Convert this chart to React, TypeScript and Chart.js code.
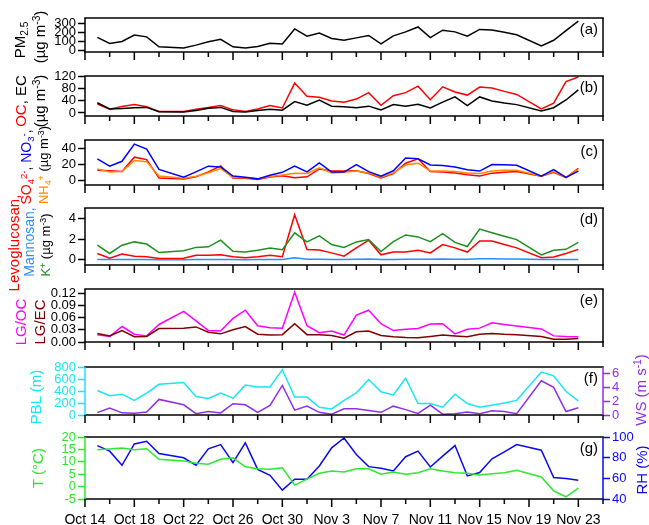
import React, { useEffect, useRef } from "react";
import { Chart, registerables } from "chart.js";

Chart.register(...registerables);

const FONT = "'Liberation Sans', Arial, Helvetica, sans-serif";

// x positions: day offset from Oct 14 (0 = Oct 14)
const dayIndex = [1, 2, 3, 4, 5, 6, 7, 8, 9, 10, 11, 12, 13, 14, 15, 16, 17, 18, 19, 20,
  21, 22, 23, 24, 25, 26, 27, 28, 29, 30, 31, 32, 33, 34, 35, 36, 37, 38, 39, 40];
const xTickLabels = ["Oct 14", "Oct 18", "Oct 22", "Oct 26", "Oct 30", "Nov 3", "Nov 7", "Nov 11", "Nov 15", "Nov 19", "Nov 23"];

const pm25 = [143, 76, 97, 170, 149, 38, null, 24, 57, 95, 122, 38, 24, 41, 78, 70, 238, 157, 192, 132,
  111, 138, 165, 70, 160, 205, 260, 141, 224, 205, 157, 232, 227, 200, 173, null, 49, 111, 219, 324];
const oc = [29, 12, 21, 27, 20, 5, null, 5, 12, 18, 24, 10, 5, 13, 24, 16, 97, 54, 51, 39,
  35, 45, 66, 25, 56, 66, 87, 43, 85, 68, 58, 84, 81, 70, 60, null, 13, 32, 102, 117];
const ec = [33, 13, 14, 17, 18, 4, null, 3, 8, 15, 18, 5, 3, 8, 12, 9, 37, 25, 42, 22,
  20, 17, 22, 10, 27, 22, 28, 16, 35, 52, 24, 52, 39, 32, 27, null, 6, 17, 42, 75];
const so4 = [13, 12.4, 11.4, 29, 26, 3.5, null, 2.2, 5, 11, 18.4, 3.5, 3.2, 1.6, 4.8, 6.4, 4, 5, 14.6, 12,
  12, 12.4, 9, 3.5, 9, 21.6, 27, 11.4, 10.8, 9.8, 7.6, 6, 9.5, 10.5, 11.4, null, 5.7, 10.5, 4, 15.5];
const no3 = [27, 18, 24, 45, 39, 14, null, 4.4, 11, 18, 17, 6, 4.4, 2.5, 7, 10.5, 18, 11, 22, 10.8,
  10.8, 20, 11.4, 5.7, 12.4, 28, 27, 19.4, 18.7, 17, 13.7, 12, 20, 19.7, 19, null, 5.7, 13.7, 4.4, 12];
const nh4 = [14.6, 11, 11.4, 25, 23.5, 6, null, 3.2, 5.7, 10, 15, 4.4, 3.8, 2.5, 5.4, 7.3, 9.5, 9, 16, 9.8,
  10.5, 12, 9.8, 4.4, 9.8, 19.4, 21.6, 12, 12, 11.4, 9.8, 9, 12, 13, 13, null, 6, 11.4, 4.4, 14];
const levoglucosan = [0.61, 0.16, 0.56, 0.35, 0.3, 0.13, null, 0.16, 0.45, 0.43, 0.48, 0.3, 0.2, 0.3, 0.43, 0.3, 4.35, 1.0, 0.95, 0.67,
  0.35, 1.15, 1.89, 0.48, 0.75, 0.75, 0.93, 0.67, 1.47, 1.15, 0.75, 1.81, 1.81, 1.47, 1.15, null, 0.21, 0.27, 0.61, 1.01];
const mannosan = [0.04, 0.02, 0.03, 0.03, 0.02, 0.01, null, 0.01, 0.02, 0.02, 0.02, 0.02, 0.01, 0.02, 0.03, 0.02, 0.2, 0.06, 0.05, 0.04,
  0.02, 0.05, 0.07, 0.03, 0.04, 0.05, 0.06, 0.05, 0.07, 0.06, 0.05, 0.1, 0.11, 0.09, 0.07, null, 0.02, 0.02, 0.03, 0.04];
const kPlus = [1.41, 0.61, 1.41, 1.73, 1.52, 0.7, null, 0.88, 1.2, 1.25, 1.9, 0.83, 0.75, 0.93, 1.15, 0.97, 2.6, 1.73, 2.32, 1.47,
  1.2, 1.73, 1.95, 0.8, 1.76, 2.4, 2.21, 1.76, 2.53, 1.68, 1.28, 2.96, 2.61, 2.27, 1.95, null, 0.48, 0.93, 1.01, 1.68];
const lgOc = [0.018, 0.0135, 0.038, 0.019, 0.015, 0.043, null, 0.075, 0.052, 0.028, 0.027, 0.058, 0.078, 0.04, 0.035, 0.034, 0.122, 0.04, 0.023, 0.027,
  0.017, 0.066, 0.078, 0.045, 0.028, 0.031, 0.033, 0.044, 0.045, 0.02, 0.031, 0.034, 0.047, 0.043, 0.039, null, 0.032, 0.015, 0.0135, 0.013];
const lgEc = [0.021, 0.015, 0.028, 0.013, 0.0135, 0.033, null, 0.034, 0.037, 0.024, 0.02, 0.03, 0.038, 0.019, 0.017, 0.018, 0.045, 0.018, 0.018, 0.016,
  0.0095, 0.025, 0.027, 0.016, 0.013, 0.011, 0.0105, 0.0135, 0.017, 0.015, 0.013, 0.019, 0.021, 0.019, 0.018, null, 0.0135, 0.007, 0.0067, 0.0087];
const pbl = [409, 320, 347, 244, 364, 511, null, 542, 307, 276, 364, 280, 498, 467, 467, 756, 298, 298, 129, 102,
  244, 369, 591, 387, 333, 613, 191, 191, 129, 347, 191, 129, 164, 200, 244, null, 716, 653, 391, 236];
const ws = [0.35, 1.02, 0.31, 0.24, 0.43, 2.27, null, 1.49, 0.2, 0.51, 0.31, 1.65, 1.49, 0.39, 1.41, 4.31, 0.71, 1.29, 0.39, 0.12,
  0.9, 0.9, 0.67, 0.39, 1.29, 0.78, 0.24, 1.45, 0.12, 0.2, 0.43, 0.2, 0.63, 0.51, 0.2, null, 5.0, 4.04, 0.51, 1.06];
const temp = [14.9, 15.2, 15.6, 14.9, 15.3, 11.0, null, 10.3, 9.4, 9.0, 11.0, 11.6, 8.0, 7.2, 7.0, 7.6, 0.6, 3.0, 5.4, 6.3,
  5.9, 7.2, 7.2, 5.0, 5.9, 5.0, 5.6, 7.2, 6.3, 5.6, 5.4, 4.7, 5.2, 5.6, 6.6, null, 3.9, -1.7, -4.1, -0.6];
const rh = [91.7, 86.3, 72.6, 93.3, 95.9, 84.0, null, 79.9, 72.6, 88.5, 92.7, 75.1, 94.3, 68.7, 63.0, 48.6, 59.2, 59.2, 71.9, 89.5,
  99, 83.1, 71.3, 69.7, 67.1, 80.9, 86.3, 71, 81.5, 91.7, 62.4, 65.6, 78.9, 85.6, 92.7, null, 87.2, 60.8, 59.8, 58.2];

const C = {
  black: "#000000",
  red: "#FF0000",
  blue: "#0000FF",
  orange: "#FF8A00",
  mannosan: "#2A8CFF",
  kplus: "#1F8F1F",
  magenta: "#FF00FF",
  darkred: "#800000",
  cyan: "#19E6F0",
  purple: "#8F2FE8",
  tgreen: "#2EE82E",
  rhblue: "#0A0AF0",
};

type AxisCfg = { min: number; max: number; ticks: number[]; color: string; digits?: number };
type SeriesCfg = { values: (number | null)[]; color: string; axis?: "y" | "y2" };
type PanelCfg = {
  top: number;
  bottom: number;
  label: string;
  y: AxisCfg;
  y2?: AxisCfg;
  series: SeriesCfg[];
  showX?: boolean;
};

const PAD_TOP = 10;

const panels: PanelCfg[] = [
  { top: 18, bottom: 64, label: "(a)", y: { min: -20, max: 360, ticks: [0, 100, 200, 300], color: C.black },
    series: [{ values: pm25, color: C.black }] },
  { top: 76, bottom: 128, label: "(b)", y: { min: -10, max: 120, ticks: [0, 40, 80, 120], color: C.black },
    series: [{ values: ec, color: C.black }, { values: oc, color: C.red }] },
  { top: 140, bottom: 197, label: "(c)", y: { min: -5, max: 50, ticks: [0, 20, 40], color: C.black },
    series: [{ values: no3, color: C.blue }, { values: nh4, color: C.orange }, { values: so4, color: C.red }] },
  { top: 208, bottom: 277, label: "(d)", y: { min: -0.5, max: 5, ticks: [0, 2, 4], color: C.black },
    series: [{ values: mannosan, color: C.mannosan }, { values: kPlus, color: C.kplus }, { values: levoglucosan, color: C.red }] },
  { top: 289, bottom: 354, label: "(e)", y: { min: 0, max: 0.13, ticks: [0, 0.03, 0.06, 0.09, 0.12], color: C.black, digits: 2 },
    series: [{ values: lgEc, color: C.darkred }, { values: lgOc, color: C.magenta }] },
  { top: 367, bottom: 427, label: "(f)", y: { min: 0, max: 800, ticks: [0, 200, 400, 600, 800], color: C.cyan },
    y2: { min: 0, max: 7, ticks: [0, 2, 4, 6], color: C.purple },
    series: [{ values: pbl, color: C.cyan }, { values: ws, color: C.purple, axis: "y2" }] },
  { top: 437, bottom: 499, label: "(g)", y: { min: -5, max: 20, ticks: [-5, 0, 5, 10, 15, 20], color: C.tgreen },
    y2: { min: 40, max: 100, ticks: [40, 60, 80, 100], color: C.rhblue },
    series: [{ values: temp, color: C.tgreen }, { values: rh, color: C.rhblue, axis: "y2" }], showX: true },
];

function yAxis(cfg: AxisCfg, position: "left" | "right", width: number) {
  return {
    type: "linear" as const,
    position,
    min: cfg.min,
    max: cfg.max,
    afterBuildTicks: (s: any) => { s.ticks = cfg.ticks.map((v) => ({ value: v })); },
    afterFit: (s: any) => { s.width = width; },
    grid: { display: true, drawOnChartArea: false, drawTicks: true, tickLength: 7, tickColor: cfg.color, tickWidth: 1.5 },
    border: { display: false },
    ticks: {
      color: cfg.color,
      padding: 2,
      autoSkip: false,
      font: { size: 13, family: FONT },
      callback: (v: any) => (cfg.digits != null ? Number(v).toFixed(cfg.digits) : String(v)),
    },
  };
}

function Panel({ cfg }: { cfg: PanelCfg }) {
  const ref = useRef<HTMLCanvasElement | null>(null);
  const padBottom = cfg.showX ? 26 : 12;
  const height = PAD_TOP + (cfg.bottom - cfg.top) + padBottom;

  useEffect(() => {
    if (!ref.current) return;
    const frame = {
      id: "frame",
      afterDraw(chart: any) {
        const { ctx, chartArea: a, scales } = chart;
        ctx.save();
        ctx.lineWidth = 1.5;
        const line = (x1: number, y1: number, x2: number, y2: number, c: string) => {
          ctx.strokeStyle = c;
          ctx.beginPath();
          ctx.moveTo(x1, y1);
          ctx.lineTo(x2, y2);
          ctx.stroke();
        };
        const xs = scales.x;
        for (let d = 0; d <= 42; d += 2) {
          const px = xs.getPixelForValue(d);
          line(px, a.bottom, px, a.bottom + (d % 4 === 0 ? 8 : 5), C.black);
        }
        line(a.left - 0.75, a.top, a.right + 0.75, a.top, C.black);
        line(a.left - 0.75, a.bottom, a.right + 0.75, a.bottom, C.black);
        line(a.left, a.top, a.left, a.bottom, cfg.y.color);
        line(a.right, a.top, a.right, a.bottom, cfg.y2 ? cfg.y2.color : C.black);
        ctx.fillStyle = C.black;
        ctx.font = `15px ${FONT}`;
        ctx.textAlign = "right";
        ctx.textBaseline = "middle";
        ctx.fillText(cfg.label, a.right - 5, a.top + 12);
        ctx.restore();
      },
    };

    const datasets = cfg.series.map((s) => ({
      data: dayIndex
        .map((d, i) => ({ x: d, y: s.values[i] }))
        .filter((p) => p.y !== null) as { x: number; y: number }[],
      borderColor: s.color,
      backgroundColor: s.color,
      borderWidth: 1.5,
      pointRadius: 0,
      tension: 0,
      fill: false,
      yAxisID: s.axis || "y",
    }));

    const scales: any = {
      x: {
        type: "linear",
        min: 0,
        max: 42,
        display: !!cfg.showX,
        afterBuildTicks: (s: any) => { s.ticks = xTickLabels.map((_, i) => ({ value: i * 4 })); },
        afterFit: (s: any) => { s.height = padBottom; },
        grid: { display: false },
        border: { display: false },
        ticks: {
          color: C.black,
          padding: 5,
          maxRotation: 0,
          autoSkip: false,
          font: { size: 14, family: FONT },
          callback: (v: any) => xTickLabels[Math.round(Number(v) / 4)],
        },
      },
      y: yAxis(cfg.y, "left", 85),
    };
    if (cfg.y2) scales.y2 = yAxis(cfg.y2, "right", 46);

    const chart = new Chart(ref.current, {
      type: "line",
      data: { datasets },
      options: {
        responsive: false,
        animation: false,
        devicePixelRatio: 1,
        layout: {
          padding: {
            top: PAD_TOP,
            bottom: cfg.showX ? 0 : padBottom,
            left: 0,
            right: cfg.y2 ? 0 : 46,
          },
        },
        plugins: { legend: { display: false }, tooltip: { enabled: false }, title: { display: false } },
        scales,
      },
      plugins: [frame],
    } as any);
    return () => chart.destroy();
  }, []);

  return (
    <canvas
      ref={ref}
      width={649}
      height={height}
      style={{ position: "absolute", left: 0, top: cfg.top - PAD_TOP, width: 649, height }}
    />
  );
}

const Sub = ({ children }: { children: React.ReactNode }) => (
  <span style={{ fontSize: "0.68em", position: "relative", top: "0.3em" }}>{children}</span>
);
const Sup = ({ children }: { children: React.ReactNode }) => (
  <span style={{ fontSize: "0.68em", position: "relative", top: "-0.45em" }}>{children}</span>
);

function VText({ cx, cy, children, color = "#000", size = 15 }: { cx: number; cy: number; children: React.ReactNode; color?: string; size?: number }) {
  return (
    <div
      style={{
        position: "absolute",
        left: cx,
        top: cy,
        transform: "translate(-50%, -50%) rotate(-90deg)",
        whiteSpace: "nowrap",
        fontSize: size,
        fontFamily: FONT,
        lineHeight: 1,
        color,
      }}
    >
      {children}
    </div>
  );
}

const unit = (
  <span>
    (µg m<Sup>-3</Sup>)
  </span>
);

export default function App() {
  return (
    <div style={{ position: "absolute", left: 0, top: 0, width: 649, height: 525, background: "#fff", overflow: "hidden" }}>
      {panels.map((p, i) => (
        <Panel key={i} cfg={p} />
      ))}
      <VText cx={20} cy={40}>
        PM<Sub>2.5</Sub>
      </VText>
      <VText cx={40} cy={37}>{unit}</VText>

      <VText cx={20} cy={101}>
        <span style={{ color: C.red }}>OC</span>, EC
      </VText>
      <VText cx={40} cy={101}>{unit}</VText>

      <VText cx={26} cy={167} size={14}>
        <span style={{ color: C.red }}>SO<Sub>4</Sub><Sup>2-</Sup></span>,{" "}
        <span style={{ color: C.blue }}>NO<Sub>3</Sub><Sup>-</Sup></span>,
      </VText>
      <VText cx={43} cy={165} size={13}>
        <span style={{ color: C.orange }}>NH<Sub>4</Sub><Sup>+</Sup></span> {unit}
      </VText>

      <VText cx={13} cy={243} color={C.red}>Levoglucosan,</VText>
      <VText cx={29} cy={242} color={C.mannosan} size={14}>Mannosan,</VText>
      <VText cx={45} cy={245} size={13}>
        <span style={{ color: C.kplus }}>K<Sup>+</Sup></span> {unit}
      </VText>

      <VText cx={20} cy={322} color={C.magenta}>LG/OC</VText>
      <VText cx={39} cy={322} color={C.darkred}>LG/EC</VText>

      <VText cx={35} cy={397} color={C.cyan}>PBL (m)</VText>
      <VText cx={37} cy={468} color={C.tgreen}>T (°C)</VText>

      <VText cx={641} cy={390} color={C.purple}>
        WS (m s<Sup>-1</Sup>)
      </VText>
      <VText cx={641} cy={470} color={C.rhblue}>RH (%)</VText>
    </div>
  );
}
